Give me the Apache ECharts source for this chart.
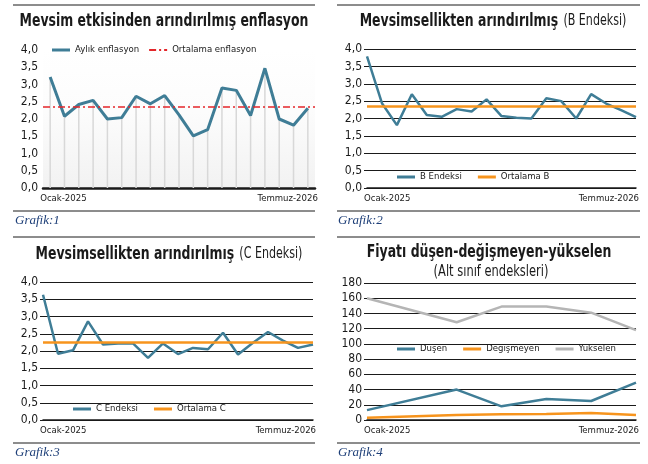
<!DOCTYPE html>
<html>
<head>
<meta charset="utf-8">
<script src="https://cdn.jsdelivr.net/npm/echarts/dist/echarts.min.js"></script>
<style>
  html, body { margin: 0; padding: 0; background: #fff; }
  #main { width: 648px; height: 464px; }
</style>
</head>
<body>
<div id="main"></div>
<script>
  // months Jan 2025 .. Jul 2026
  var months = ['Ocak-2025', 'Şubat-2025', 'Mart-2025', 'Nisan-2025', 'Mayıs-2025', 'Haziran-2025',
    'Temmuz-2025', 'Ağustos-2025', 'Eylül-2025', 'Ekim-2025', 'Kasım-2025', 'Aralık-2025',
    'Ocak-2026', 'Şubat-2026', 'Mart-2026', 'Nisan-2026', 'Mayıs-2026', 'Haziran-2026', 'Temmuz-2026'];
  var quarters = ['Ocak-2025', 'Nisan-2025', 'Temmuz-2025', 'Ekim-2025', 'Ocak-2026', 'Nisan-2026', 'Temmuz-2026'];

  // Grafik 1
  var aylik = [3.22, 2.08, 2.42, 2.54, 2.0, 2.04, 2.66, 2.44, 2.68, 2.12, 1.51, 1.69, 2.9, 2.83, 2.1, 3.47, 2.0, 1.82, 2.31];
  var ortAylik = 2.35;
  // Grafik 2
  var bEndeksi = [3.79, 2.44, 1.81, 2.7, 2.1, 2.05, 2.27, 2.2, 2.55, 2.07, 2.02, 2.0, 2.58, 2.5, 2.0, 2.7, 2.43, 2.24, 2.04];
  var ortB = 2.35;
  // Grafik 3
  var cEndeksi = [3.63, 1.92, 2.02, 2.86, 2.19, 2.22, 2.22, 1.8, 2.22, 1.91, 2.09, 2.05, 2.53, 1.9, 2.24, 2.55, 2.3, 2.09, 2.19];
  var ortC = 2.26;
  // Grafik 4 (quarterly)
  var dusen = [13, null, 40, 18, 27.5, 25, 49];
  var degismeyen = [3, null, 6.5, 7.4, 7.8, 9.2, 6.5];
  var yukselen = [160, null, 128.5, 149, 149, 141, 118];

  var FONT = "'Liberation Sans Narrow', 'DejaVu Sans Condensed', 'Roboto', sans-serif";
  var SERIF = 'italic 13px "Liberation Serif", "DejaVu Serif", serif';
  var INK = '#1a1a1a';
  var BLUE = '#3f7d96';
  var ORANGE = '#f7941d';
  var GREY = '#b5b5b5';
  var RED = '#e3262a';
  var BAR_ICON = 'path://M0,0 L18,0 L18,3 L0,3 Z';
  var DASH_ICON = 'path://M0,0 L7,0 L7,2 L0,2 Z M10,0 L12,0 L12,2 L10,2 Z M15,0 L18,0 L18,2 L15,2 Z';

  function comma(v) { return v.toFixed(1).replace('.', ','); }

  function xAxisFor(gi, cats, gap, pad) {
    return {
      type: 'category', gridIndex: gi, data: cats, boundaryGap: gap,
      axisLine: { show: true, lineStyle: { color: INK, width: gi === 0 ? 2.5 : 1.5 } },
      axisTick: { show: false },
      axisLabel: {
        interval: function (i) { return i === 0 || i === cats.length - 1; },
        alignMinLabel: 'left', alignMaxLabel: 'right',
        padding: [0, pad, 0, pad],
        margin: 6, fontSize: 9.5, color: INK, fontFamily: FONT
      },
      splitLine: { show: false }
    };
  }

  function yAxisFor(gi, max, interval, fmt, grid) {
    return {
      type: 'value', gridIndex: gi, min: 0, max: max, interval: interval,
      axisLine: { show: false },
      axisTick: { show: grid, length: 3, lineStyle: { color: INK } },
      axisLabel: { formatter: fmt, fontSize: 12, color: INK, fontFamily: FONT, margin: 5 },
      splitLine: { show: grid, lineStyle: { color: INK, width: 1.2 } }
    };
  }

  function avgSeries(name, xi, val, color, type) {
    return {
      name: name, type: 'line', xAxisIndex: xi, yAxisIndex: xi, data: [],
      symbol: 'none', lineStyle: { color: color, width: 2, type: type }, itemStyle: { color: color },
      markLine: {
        silent: true, symbol: 'none', label: { show: false },
        lineStyle: { color: color, width: type === 'solid' ? 2.5 : 1.6, type: type },
        data: [{ yAxis: val }]
      },
      z: 3
    };
  }

  function legendFor(left, top, items, gap) {
    return {
      left: left, top: top, padding: 0, itemWidth: 18, itemHeight: 3, itemGap: gap, icon: BAR_ICON,
      data: items.map(function (n) { return typeof n === 'string' ? { name: n } : n; }),
      textStyle: { fontSize: 9.5, color: INK, fontFamily: FONT }
    };
  }

  function title(x, y, text, rich) {
    var t = { type: 'text', x: x, y: y, scaleX: 0.77, style: { text: text, align: 'center', verticalAlign: 'middle', fill: INK } };
    if (rich) {
      t.style.rich = { b: { font: 'bold 18px ' + FONT, fill: INK }, n: { font: '16px ' + FONT, fill: INK } };
    } else {
      t.style.font = 'bold 18px ' + FONT;
    }
    return t;
  }

  function rule(x1, x2, y) {
    return { type: 'line', shape: { x1: x1, y1: y, x2: x2, y2: y }, style: { stroke: INK, lineWidth: 1 } };
  }

  var chart = echarts.init(document.getElementById('main'));

  var option = {
    animation: false,
    backgroundColor: '#fff',
    grid: [
      { left: 43, right: 333, top: 50, bottom: 276, show: true, borderWidth: 0,
        backgroundColor: new echarts.graphic.LinearGradient(0, 0, 0, 1, [
          { offset: 0, color: '#ffffff' }, { offset: 0.45, color: '#fcfcfc' }, { offset: 1, color: '#f2f2f2' }]) },
      { left: 367, right: 12, top: 49, bottom: 276 },
      { left: 43, right: 335, top: 282, bottom: 44 },
      { left: 367, right: 12, top: 283, bottom: 44 }
    ],
    xAxis: [
      xAxisFor(0, months, true, -10),
      xAxisFor(1, months, false, -3),
      xAxisFor(2, months, false, -3),
      xAxisFor(3, quarters, false, -3)
    ],
    yAxis: [
      yAxisFor(0, 4, 0.5, comma, false),
      yAxisFor(1, 4, 0.5, comma, true),
      yAxisFor(2, 4, 0.5, comma, true),
      yAxisFor(3, 180, 20, null, true)
    ],
    legend: [
      legendFor(52, 45, ['Aylık enflasyon', { name: 'Ortalama enflasyon', icon: DASH_ICON }], 10),
      legendFor(397, 172, ['B Endeksi', 'Ortalama B'], 16),
      legendFor(73, 404, ['C Endeksi', 'Ortalama C'], 16),
      legendFor(397, 344, ['Düşen', 'Değişmeyen', 'Yükselen'], 16)
    ],
    series: [
      { type: 'bar', xAxisIndex: 0, yAxisIndex: 0, data: aylik, barWidth: 1.5, silent: true,
        itemStyle: { color: '#d8d8d8' }, z: 1 },
      { name: 'Aylık enflasyon', type: 'line', xAxisIndex: 0, yAxisIndex: 0, data: aylik, symbol: 'none',
        lineStyle: { color: BLUE, width: 3 }, itemStyle: { color: BLUE }, z: 4 },
      avgSeries('Ortalama enflasyon', 0, ortAylik, RED, [7, 3, 2, 3]),

      { name: 'B Endeksi', type: 'line', xAxisIndex: 1, yAxisIndex: 1, data: bEndeksi, symbol: 'none',
        lineStyle: { color: BLUE, width: 2.5 }, itemStyle: { color: BLUE }, z: 4 },
      avgSeries('Ortalama B', 1, ortB, ORANGE, 'solid'),

      { name: 'C Endeksi', type: 'line', xAxisIndex: 2, yAxisIndex: 2, data: cEndeksi, symbol: 'none',
        lineStyle: { color: BLUE, width: 2.5 }, itemStyle: { color: BLUE }, z: 4 },
      avgSeries('Ortalama C', 2, ortC, ORANGE, 'solid'),

      { name: 'Düşen', type: 'line', xAxisIndex: 3, yAxisIndex: 3, data: dusen, connectNulls: true, symbol: 'none',
        lineStyle: { color: BLUE, width: 2.5 }, itemStyle: { color: BLUE }, z: 4 },
      { name: 'Değişmeyen', type: 'line', xAxisIndex: 3, yAxisIndex: 3, data: degismeyen, connectNulls: true, symbol: 'none',
        lineStyle: { color: ORANGE, width: 2.5 }, itemStyle: { color: ORANGE }, z: 4 },
      { name: 'Yükselen', type: 'line', xAxisIndex: 3, yAxisIndex: 3, data: yukselen, connectNulls: true, symbol: 'none',
        lineStyle: { color: GREY, width: 2.5 }, itemStyle: { color: GREY }, z: 4 }
    ],
    graphic: [
      rule(13, 315, 5), rule(13, 315, 211), rule(337, 640, 5), rule(337, 640, 211),
      rule(13, 315, 237), rule(13, 315, 443), rule(337, 640, 237), rule(337, 640, 443),
      title(164, 21, 'Mevsim etkisinden arındırılmış enflasyon', false),
      title(493, 21, '{b|Mevsimsellikten arındırılmış}  {n|(B Endeksi)}', true),
      title(169, 254, '{b|Mevsimsellikten arındırılmış}  {n|(C Endeksi)}', true),
      title(489, 252, 'Fiyatı düşen-değişmeyen-yükselen', false),
      { type: 'text', x: 491, y: 272, scaleX: 0.85, style: { text: '(Alt sınıf endeksleri)', align: 'center', verticalAlign: 'middle',
        font: '15px ' + FONT, fill: INK } },
      { type: 'text', x: 15, y: 221, style: { text: 'Grafik:1', verticalAlign: 'middle', font: SERIF, fill: '#1e3f78' } },
      { type: 'text', x: 338, y: 221, style: { text: 'Grafik:2', verticalAlign: 'middle', font: SERIF, fill: '#1e3f78' } },
      { type: 'text', x: 15, y: 453, style: { text: 'Grafik:3', verticalAlign: 'middle', font: SERIF, fill: '#1e3f78' } },
      { type: 'text', x: 338, y: 453, style: { text: 'Grafik:4', verticalAlign: 'middle', font: SERIF, fill: '#1e3f78' } }
    ]
  };

  chart.setOption(option);
</script>
</body>
</html>
